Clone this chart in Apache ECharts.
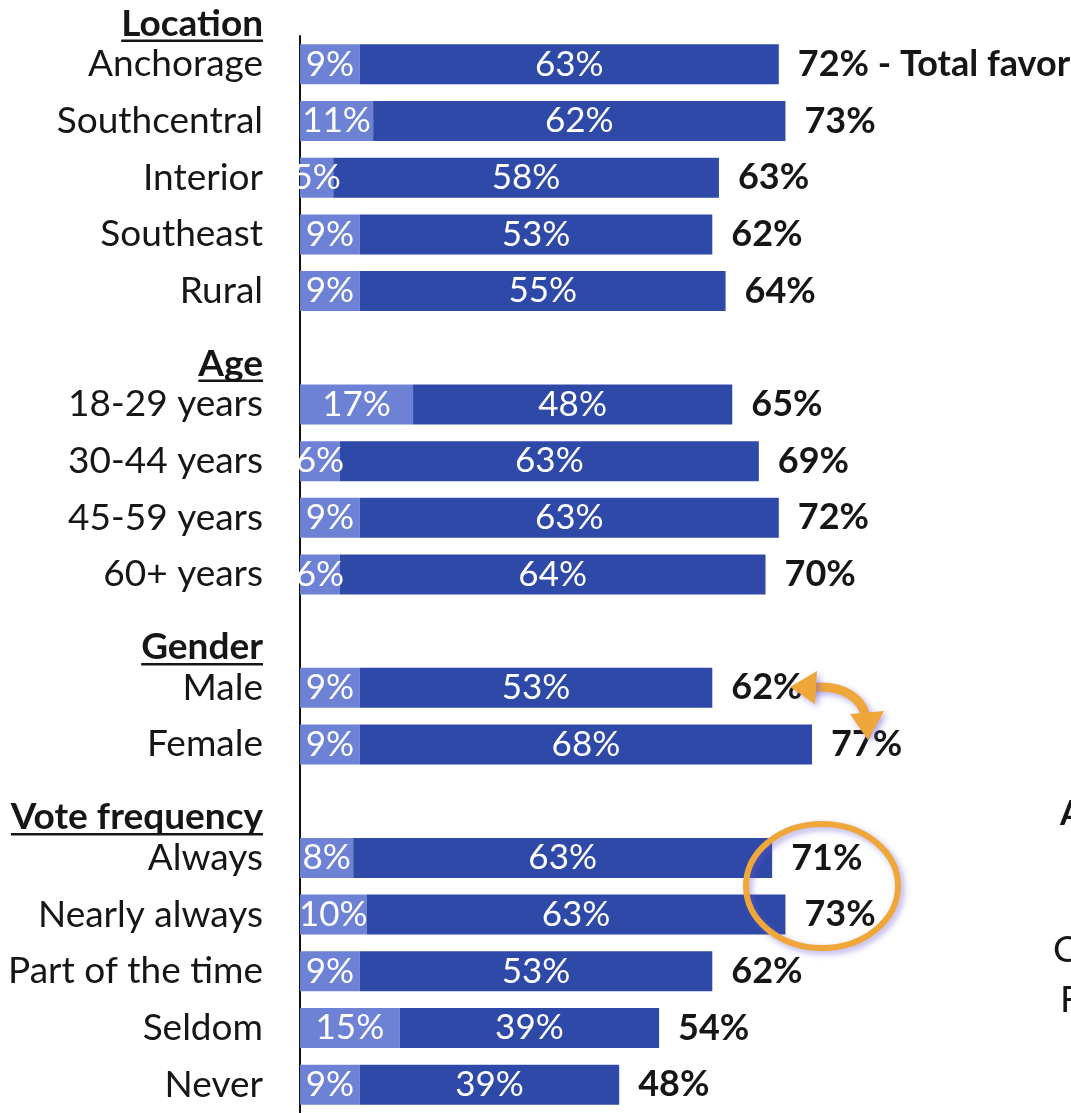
<!DOCTYPE html>
<html>
<head>
<meta charset="utf-8">
<script src="https://cdn.jsdelivr.net/npm/echarts@6/dist/echarts.min.js"></script>
<style>
html,body{margin:0;padding:0;background:#fff;}
#chart{width:1071px;height:1113px;}
</style>
</head>
<body>
<div id="chart"></div>
<script>
// ---- data ----
const headers = ['Location', 'Age', 'Gender', 'Vote frequency'];
const locationRows = ['Anchorage', 'Southcentral', 'Interior', 'Southeast', 'Rural'];
const ageRows = ['18-29 years', '30-44 years', '45-59 years', '60+ years'];
const genderRows = ['Male', 'Female'];
const voteRows = ['Always', 'Nearly always', 'Part of the time', 'Seldom', 'Never'];

const somewhatFavor = [9, 11, 5, 9, 9,   17, 6, 9, 6,   9, 9,   8, 10, 9, 15, 9];
const stronglyFavor = [63, 62, 58, 53, 55,   48, 63, 63, 64,   53, 68,   63, 63, 53, 39, 39];
const totalFavor    = [72, 73, 63, 62, 64,   65, 69, 72, 70,   62, 77,   71, 73, 62, 54, 48];
const firstTotalSuffix = ' - Total favor';

// ---- build slots (header rows after the first are blank slots) ----
const groups = [locationRows, ageRows, genderRows, voteRows];
const categories = [];
const isHeader = [];
const rowIndex = [];
let k = 0;
groups.forEach((rows, gi) => {
  if (gi > 0) { categories.push(headers[gi]); isHeader.push(true); rowIndex.push(-1); }
  rows.forEach(r => { categories.push(r); isHeader.push(false); rowIndex.push(k++); });
});
const pick = arr => categories.map((c, i) => isHeader[i] ? '-' : arr[rowIndex[i]]);
const lightData = pick(somewhatFavor);
const darkData = pick(stronglyFavor);
const totalData = categories.map((c, i) => isHeader[i] ? '-' : 0);

const FONT = 'Lato';
const chart = echarts.init(document.getElementById('chart'), null, {renderer: 'canvas'});

const option = {
  backgroundColor: '#ffffff',
  animation: false,
  grid: {left: 300, right: 106, top: 36, height: 1079, containLabel: false},
  xAxis: {type: 'value', min: 0, max: 100, show: false},
  yAxis: {
    type: 'category',
    data: categories,
    inverse: true,
    axisLine: {show: true, lineStyle: {color: '#111', width: 2}},
    axisTick: {show: false},
    splitLine: {show: false},
    axisLabel: {
      margin: 37,
      fontFamily: FONT,
      fontSize: 37,
      color: '#161616',
      formatter: (v, i) => isHeader[i] ? '' : v
    }
  },
  series: [
    {
      type: 'bar', stack: 'f', data: lightData, barWidth: 40,
      itemStyle: {color: '#6D82D5'},
      label: {show: true, position: 'inside', color: '#fff', fontFamily: FONT, fontSize: 35,
        formatter: p => p.value + '%'}
    },
    {
      type: 'bar', stack: 'f', data: darkData, barWidth: 40,
      itemStyle: {color: '#2E49A8'},
      label: {show: true, position: 'inside', color: '#fff', fontFamily: FONT, fontSize: 35,
        formatter: p => p.value + '%'}
    },
    {
      type: 'bar', stack: 'f', data: totalData, barWidth: 40,
      itemStyle: {color: 'rgba(0,0,0,0)'},
      label: {show: true, position: 'right', distance: 19, color: '#161616', fontFamily: FONT,
        fontSize: 36, fontWeight: 'bold',
        formatter: p => {
          const r = rowIndex[p.dataIndex];
          return totalFavor[r] + '%' + (r === 0 ? firstTotalSuffix : '');
        }}
    }
  ]
};
chart.setOption(option);

// ---- headers (positioned from the category axis) ----
const ctx = document.createElement('canvas').getContext('2d');
ctx.font = 'bold 37px ' + FONT;
const yOf = c => chart.convertToPixel({yAxisIndex: 0}, c);
const slot = yOf(locationRows[1]) - yOf(locationRows[0]);
const headerSlotY = [yOf(locationRows[0]) - slot, yOf(headers[1]), yOf(headers[2]), yOf(headers[3])];
const labelRight = 263;
const graphics = [];
headers.forEach((h, i) => {
  const y = headerSlotY[i];
  const w = ctx.measureText(h).width;
  graphics.push({
    type: 'text', x: labelRight, y: y + 16, z: 100,
    style: {text: h, font: 'bold 37px ' + FONT, fill: '#161616', align: 'right', verticalAlign: 'middle'}
  });
  graphics.push({
    type: 'line', z: 100, shape: {x1: labelRight - w, y1: y + 33, x2: labelRight, y2: y + 33},
    style: {stroke: '#161616', lineWidth: 2.5}
  });
});

// ---- orange annotations ----
const orange = '#EFA73A';
const glow = {shadowBlur: 6, shadowColor: 'rgba(110,90,210,0.5)', shadowOffsetX: 3, shadowOffsetY: 3};
graphics.push({
  type: 'bezierCurve', z: 100,
  shape: {x1: 808, y1: 688, cpx1: 845, cpy1: 683, cpx2: 864, cpy2: 700, x2: 866, y2: 720},
  style: Object.assign({stroke: orange, lineWidth: 9, fill: null}, glow)
});
graphics.push({
  type: 'polygon', z: 100, shape: {points: [[790, 687], [817, 671], [815, 704]]},
  style: Object.assign({fill: orange}, glow)
});
graphics.push({
  type: 'polygon', z: 100, shape: {points: [[868, 740], [850, 714], [884, 711]]},
  style: Object.assign({fill: orange}, glow)
});
graphics.push({
  type: 'ellipse', z: 100, shape: {cx: 822, cy: 886, rx: 76, ry: 62},
  style: Object.assign({stroke: orange, lineWidth: 6, fill: null}, glow)
});

// ---- partial text at the right edge ----
graphics.push({type: 'text', z: 100, x: 1060, y: 814, style: {text: 'A', font: 'bold 34px ' + FONT, fill: '#161616', verticalAlign: 'middle'}});
graphics.push({type: 'text', z: 100, x: 1053, y: 950, style: {text: 'C', font: '37px ' + FONT, fill: '#161616', verticalAlign: 'middle'}});
graphics.push({type: 'text', z: 100, x: 1060, y: 1000, style: {text: 'F', font: '37px ' + FONT, fill: '#161616', verticalAlign: 'middle'}});

chart.setOption({graphic: {elements: graphics}});
</script>
</body>
</html>
